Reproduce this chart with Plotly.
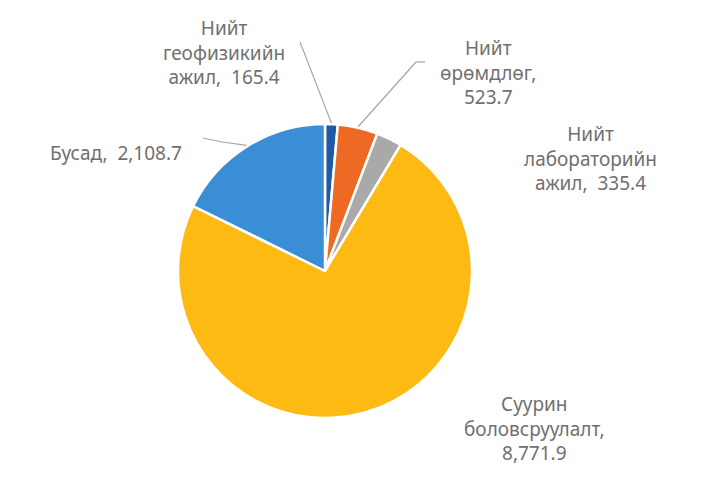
import math
import plotly.graph_objects as go

categories = ["Нийт геофизикийн ажил", "Нийт өрөмдлөг", "Нийт лабораторийн ажил",
              "Суурин боловсруулалт", "Бусад"]
values = [165.4, 523.7, 335.4, 8771.9, 2108.7]
label_texts = ["Нийт<br>геофизикийн<br>ажил,  165.4",
               "Нийт<br>өрөмдлөг,<br>523.7",
               "Нийт<br>лабораторийн<br>ажил,  335.4",
               "Суурин<br>боловсруулалт,<br>8,771.9",
               "Бусад,  2,108.7"]
colors = ["#1F5AA6", "#EE6A24", "#A9A9A9", "#FCBA12", "#3A8ED6"]

OFF = 8  # page body margin
W, H = 715 - OFF, 480 - OFF
cx, cy, r = 325, 271, 147   # screen pixel coords

def px(x):
    return (x - OFF) / W

def py(y):
    return 1 - (y - OFF) / H

fig = go.Figure(go.Pie(
    labels=categories, values=values, sort=False, direction="clockwise", rotation=0,
    textinfo="none", hoverinfo="label+value",
    marker=dict(colors=colors, line=dict(color="white", width=2.5)),
    domain=dict(x=[px(cx - r), px(cx + r)], y=[py(cy + r), py(cy - r)]),
    showlegend=False,
))

# label positions (screen pixel centres)
label_pos = [(224, 53), (488, 73), (590, 158), (534, 428), (116, 153)]
font = dict(family="Noto Sans, Open Sans, sans-serif", size=19, color="#707070")
for txt, (x, y) in zip(label_texts, label_pos):
    fig.add_annotation(x=px(x), y=py(y), xref="paper", yref="paper", text=txt,
                       showarrow=False, font=font, align="center",
                       xanchor="center", yanchor="middle")

# leader lines: from label side to the rim at the slice's mid-angle
total = sum(values)
cum = 0
mids = []
for v in values:
    mids.append((cum + v / 2) / total * 360)
    cum += v

def rim(i, rr=r + 1):
    a = math.radians(mids[i])
    return cx + rr * math.sin(a), cy - rr * math.cos(a)

line_style = dict(color="#A6A6A6", width=1.2)

def seg(p0, p1):
    fig.add_shape(type="line", xref="paper", yref="paper",
                  x0=px(p0[0]), y0=py(p0[1]), x1=px(p1[0]), y1=py(p1[1]),
                  line=line_style)

seg((300, 42), rim(0))
seg((425, 62), (416, 62))
seg((416, 62), rim(1))
seg((203, 138), (222, 142))
seg((222, 142), rim(4))

fig.update_layout(width=W, height=H, margin=dict(l=0, r=0, t=0, b=0),
                  paper_bgcolor="white", plot_bgcolor="white")
fig.write_html("out.html")
